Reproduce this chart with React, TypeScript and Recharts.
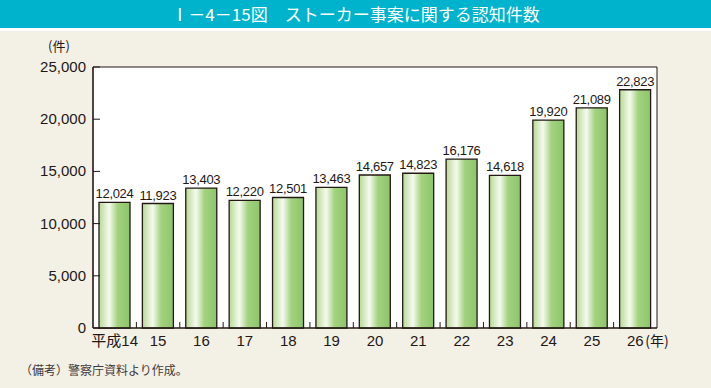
import { Bar, BarChart, LabelList, ReferenceArea, XAxis, YAxis } from 'recharts';

const years = ['平成14', '15', '16', '17', '18', '19', '20', '21', '22', '23', '24', '25', '26'];
const cases = [12024, 11923, 13403, 12220, 12501, 13463, 14657, 14823, 16176, 14618, 19920, 21089, 22823];
const yTicks = [0, 5000, 10000, 15000, 20000, 25000];

const data = years.map((year, i) => ({ year, cases: cases[i] }));

const CHART_W = 711;
const CHART_H = 388;
const MARGIN = { top: 67, right: 54, bottom: 30, left: 0 };
const Y_AXIS_W = 93;
const STEP = (CHART_W - MARGIN.left - MARGIN.right - Y_AXIS_W) / years.length;

const FONT = "'Liberation Sans', 'Noto Sans CJK JP', sans-serif";
const JP_FONT = "'Noto Sans CJK JP', sans-serif";
const INK = '#231815';

const fmt = (v: number) => Number(v).toLocaleString('en-US');

function YTick({ x, y, payload }: any) {
  return (
    <g>
      <line x1={x + 7} x2={x + 14} y1={y} y2={y} stroke={INK} strokeWidth={1} />
      <text x={x} y={y} dy={5} textAnchor="end" fontSize={15} fill={INK} fontFamily={FONT}>
        {fmt(payload.value)}
      </text>
    </g>
  );
}

function XTick({ x, y, payload, index }: any) {
  const last = index === years.length - 1;
  return (
    <g>
      {!last && (
        <line x1={x + STEP / 2} x2={x + STEP / 2} y1={y} y2={y - 6} stroke={INK} strokeWidth={1} />
      )}
      <text x={x} y={y + 18} textAnchor="middle" fontSize={15} fill={INK} fontFamily={FONT}>
        {payload.value}
      </text>
      {last && (
        <text x={x + 10} y={y + 18} textAnchor="start" fontSize={14} fill={INK} fontFamily={JP_FONT}>
          (年)
        </text>
      )}
    </g>
  );
}

export default function App() {
  return (
    <div
      style={{
        position: 'absolute',
        left: 0,
        top: 0,
        width: CHART_W,
        height: CHART_H,
        background: '#fff',
        fontFamily: FONT,
        overflow: 'hidden',
      }}
    >
      <div
        style={{
          position: 'absolute',
          left: 0,
          top: 0,
          width: CHART_W,
          height: 28,
          background: '#00b3cc',
          color: '#fff',
          fontFamily: JP_FONT,
          fontSize: 17,
          lineHeight: '28px',
          textAlign: 'center',
        }}
      >
        Ⅰ－4－15図　ストーカー事案に関する認知件数
      </div>
      <div
        style={{
          position: 'absolute',
          left: 0,
          top: 31,
          width: CHART_W,
          height: CHART_H - 31,
          background: '#f3f0e5',
        }}
      />
      <div
        style={{
          position: 'absolute',
          left: 48,
          top: 38,
          fontSize: 13,
          lineHeight: '16px',
          color: INK,
          fontFamily: JP_FONT,
        }}
      >
        (件)
      </div>
      <div
        style={{
          position: 'absolute',
          left: 20,
          top: 361,
          fontSize: 12,
          color: '#3e3a39',
          fontFamily: JP_FONT,
        }}
      >
        （備考）警察庁資料より作成。
      </div>
      <div style={{ position: 'absolute', left: 0, top: 0 }}>
        <BarChart width={CHART_W} height={CHART_H} data={data} margin={MARGIN}>
          <defs>
            <linearGradient id="barGrad" x1="0" y1="0" x2="1" y2="0">
              <stop offset="0%" stopColor="#b7da93" />
              <stop offset="33%" stopColor="#f5faef" />
              <stop offset="60%" stopColor="#a3d27f" />
              <stop offset="100%" stopColor="#8cc56a" />
            </linearGradient>
          </defs>
          <ReferenceArea y1={0} y2={25000} fill="#fff" fillOpacity={1} stroke={INK} strokeWidth={1} />
          <XAxis
            dataKey="year"
            height={30}
            tickSize={0}
            tickMargin={0}
            tickLine={false}
            axisLine={{ stroke: INK, strokeWidth: 1.2 }}
            tick={<XTick />}
            interval={0}
          />
          <YAxis
            width={Y_AXIS_W}
            domain={[0, 25000]}
            ticks={yTicks}
            tickSize={0}
            tickMargin={7}
            tickLine={false}
            axisLine={{ stroke: INK, strokeWidth: 1.2 }}
            tick={<YTick />}
          />
          <Bar dataKey="cases" barSize={31} fill="url(#barGrad)" stroke={INK} strokeWidth={1.3} isAnimationActive={false}>
            <LabelList
              dataKey="cases"
              position="top"
              offset={4}
              formatter={(v: any) => fmt(v)}
              style={{ fontSize: 13, fill: INK, fontFamily: FONT, letterSpacing: -0.3 }}
            />
          </Bar>
        </BarChart>
      </div>
    </div>
  );
}
